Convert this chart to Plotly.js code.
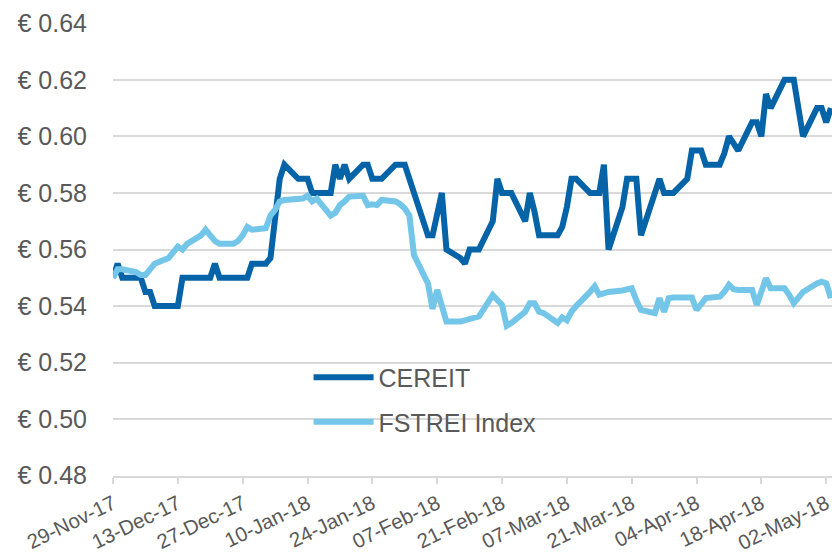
<!DOCTYPE html>
<html>
<head>
<meta charset="utf-8">
<script src="https://cdn.plot.ly/plotly-3.0.1.min.js"></script>
<style>html,body{margin:0;padding:0;background:#fff}#chart{width:832px;height:553px}</style>
</head>
<body>
<div id="chart"></div>
<script>
const dates = [
'2017-11-29','2017-11-30',
'2017-12-01','2017-12-04','2017-12-05','2017-12-06','2017-12-07','2017-12-08',
'2017-12-11','2017-12-12','2017-12-13','2017-12-14','2017-12-15',
'2017-12-18','2017-12-19','2017-12-20','2017-12-21','2017-12-22',
'2017-12-25','2017-12-26','2017-12-27','2017-12-28','2017-12-29',
'2018-01-01','2018-01-02','2018-01-03','2018-01-04','2018-01-05',
'2018-01-08','2018-01-09','2018-01-10','2018-01-11','2018-01-12',
'2018-01-15','2018-01-16','2018-01-17','2018-01-18','2018-01-19',
'2018-01-22','2018-01-23','2018-01-24','2018-01-25','2018-01-26',
'2018-01-29','2018-01-30','2018-01-31','2018-02-01','2018-02-02',
'2018-02-05','2018-02-06','2018-02-07','2018-02-08','2018-02-09',
'2018-02-12','2018-02-13','2018-02-14','2018-02-15','2018-02-16',
'2018-02-19','2018-02-20','2018-02-21','2018-02-22','2018-02-23',
'2018-02-26','2018-02-27','2018-02-28','2018-03-01','2018-03-02',
'2018-03-05','2018-03-06','2018-03-07','2018-03-08','2018-03-09',
'2018-03-12','2018-03-13','2018-03-14','2018-03-15','2018-03-16',
'2018-03-19','2018-03-20','2018-03-21','2018-03-22','2018-03-23',
'2018-03-26','2018-03-27','2018-03-28','2018-03-29','2018-03-30',
'2018-04-02','2018-04-03','2018-04-04','2018-04-05','2018-04-06',
'2018-04-09','2018-04-10','2018-04-11','2018-04-12','2018-04-13',
'2018-04-16','2018-04-17','2018-04-18','2018-04-19','2018-04-20',
'2018-04-23','2018-04-24','2018-04-25','2018-04-26','2018-04-27',
'2018-04-30','2018-05-01','2018-05-02','2018-05-03'
];

const cereit = [
0.550,0.555,
0.550,0.550,0.550,0.545,0.545,0.540,
0.540,0.540,0.540,0.550,0.550,
0.550,0.550,0.550,0.555,0.550,
0.550,0.550,0.550,0.550,0.555,
0.555,0.557,0.572,0.585,0.590,
0.585,0.585,0.585,0.580,0.580,
0.580,0.590,0.585,0.590,0.585,
0.590,0.590,0.585,0.585,0.585,
0.590,0.590,0.590,0.585,0.580,
0.565,0.565,0.5725,0.580,0.560,
0.557,0.555,0.560,0.560,0.560,
0.570,0.585,0.580,0.580,0.580,
0.570,0.580,0.5735,0.565,0.565,
0.565,0.568,0.575,0.585,0.585,
0.580,0.580,0.580,0.590,0.560,
0.575,0.585,0.585,0.585,0.565,
0.580,0.585,0.580,0.580,0.580,
0.585,0.595,0.595,0.595,0.590,
0.590,0.594,0.600,0.5975,0.595,
0.605,0.605,0.600,0.615,0.610,
0.620,0.620,0.620,0.610,0.600,
0.610,0.610,0.605,0.610
];

const fstrei = [
0.550,0.553,
0.553,0.552,0.551,0.551,0.553,0.555,
0.557,0.559,0.561,0.560,0.562,
0.565,0.567,0.565,0.563,0.562,
0.562,0.563,0.565,0.568,0.567,
0.5675,0.572,0.574,0.577,0.5775,
0.578,0.578,0.579,0.577,0.578,
0.572,0.573,0.5757,0.577,0.5787,
0.579,0.5757,0.576,0.5757,0.5775,
0.577,0.576,0.5745,0.572,0.558,
0.548,0.539,0.5457,0.540,0.5345,
0.5345,0.535,0.5357,0.536,0.5363,
0.5439,0.542,0.5404,0.533,0.534,
0.538,0.541,0.541,0.538,0.5375,
0.534,0.536,0.535,0.538,0.540,
0.545,0.547,0.544,0.5445,0.545,
0.5455,0.546,0.5463,0.542,0.5386,
0.5375,0.5428,0.538,0.5428,0.543,
0.5433,0.543,0.5386,0.541,0.5428,
0.5433,0.545,0.5475,0.546,0.5457,
0.5457,0.5404,0.545,0.5498,0.5463,
0.5463,0.544,0.541,0.543,0.545,
0.548,0.5486,0.548,0.5428
];

const seriesNames = ['CEREIT', 'FSTREI Index'];
const xTickVals = ['2017-11-29','2017-12-13','2017-12-27','2018-01-10','2018-01-24','2018-02-07',
                   '2018-02-21','2018-03-07','2018-03-21','2018-04-04','2018-04-18','2018-05-02'];
const xTickText = ['29-Nov-17','13-Dec-17','27-Dec-17','10-Jan-18','24-Jan-18','07-Feb-18',
                   '21-Feb-18','07-Mar-18','21-Mar-18','04-Apr-18','18-Apr-18','02-May-18'];
const yTickVals = [0.48,0.50,0.52,0.54,0.56,0.58,0.60,0.62,0.64];
const yTickText = ['€ 0.48','€ 0.50','€ 0.52','€ 0.54','€ 0.56','€ 0.58','€ 0.60','€ 0.62','€ 0.64'];

const FONT = '"Liberation Sans", Arial, Helvetica, sans-serif';
const traces = [
  {x: dates, y: cereit, name: seriesNames[0], type: 'scatter', mode: 'lines',
   line: {color: '#0563a8', width: 6}, legendgroup: 'a'},
  {x: dates, y: fstrei, name: seriesNames[1], type: 'scatter', mode: 'lines',
   line: {color: '#74c6e9', width: 6}, legendgroup: 'b'}
];

const layout = {
  width: 832, height: 553,
  margin: {l: 113, r: 0, t: 23, b: 77},
  paper_bgcolor: '#ffffff', plot_bgcolor: '#ffffff',
  font: {family: FONT, color: '#595959'},
  showlegend: true,
  legend: {
    x: 0.272, y: 0.268, xanchor: 'left', yanchor: 'top',
    bgcolor: 'rgba(0,0,0,0)', font: {size: 25, color: '#595959', family: FONT},
    tracegroupgap: 9, itemwidth: 60, traceorder: 'grouped'
  },
  xaxis: {
    type: 'date',
    range: ['2017-11-29', '2018-05-03 06:00'],
    tickvals: xTickVals, ticktext: xTickText,
    tickangle: -26,
    ticklabeloverflow: 'allow',
    tickfont: {size: 20.5, color: '#595959', family: FONT},
    ticks: 'outside', ticklen: 6, tickwidth: 2, tickcolor: '#d9d9d9',
    showline: true, linecolor: '#d9d9d9', linewidth: 2,
    showgrid: false, zeroline: false
  },
  yaxis: {
    range: [0.4799, 0.6401],
    tickvals: yTickVals, ticktext: yTickText,
    tickfont: {size: 25, color: '#595959', family: FONT},
    ticks: 'outside', ticklen: 20, tickcolor: 'rgba(0,0,0,0)',
    showgrid: true, gridcolor: '#d9d9d9', gridwidth: 2,
    zeroline: false, showline: false
  }
};

Plotly.newPlot('chart', traces, layout, {displayModeBar: false, staticPlot: true});
</script>
</body>
</html>
